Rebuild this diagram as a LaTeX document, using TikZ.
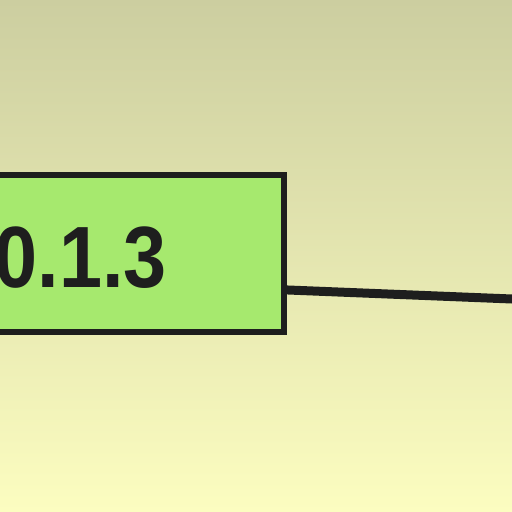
\documentclass[tikz,border=0pt]{standalone}
\usepackage{fontspec}
\setmainfont{Liberation Sans}
\usetikzlibrary{positioning}

\definecolor{bgtop}{HTML}{CCCEA0}
\definecolor{bgmid}{HTML}{ECECB4}
\definecolor{bgbottom}{HTML}{FCFDC0}
\definecolor{boxfill}{HTML}{A6E96E}
\definecolor{inkline}{HTML}{1E1E1E}

\tikzset{
    versionbox/.style={draw=inkline, fill=boxfill, line width=6pt,
        minimum height=156.5pt, text width=320pt, align=right,
        inner xsep=117pt, text height=69pt, text depth=0pt,
        font=\fontsize{87}{87}\selectfont\bfseries, text=inkline},
    edge/.style={draw=inkline, line width=9pt}
}

\begin{document}
\begin{tikzpicture}[x=1pt,y=-1pt]
    \useasboundingbox (0,0) rectangle (512,512);
    \shade[top color=bgtop, middle color=bgmid, bottom color=bgbottom] (0,0) rectangle (512,512);
    \node[versionbox, anchor=north east] (v013) at (287,172) {\scalebox{0.89}[1]{0.1.3}};
    \coordinate (next) at (512,299);
    \draw[edge] ([yshift=-36.7pt]v013.east) -- (next);
\end{tikzpicture}
\end{document}
